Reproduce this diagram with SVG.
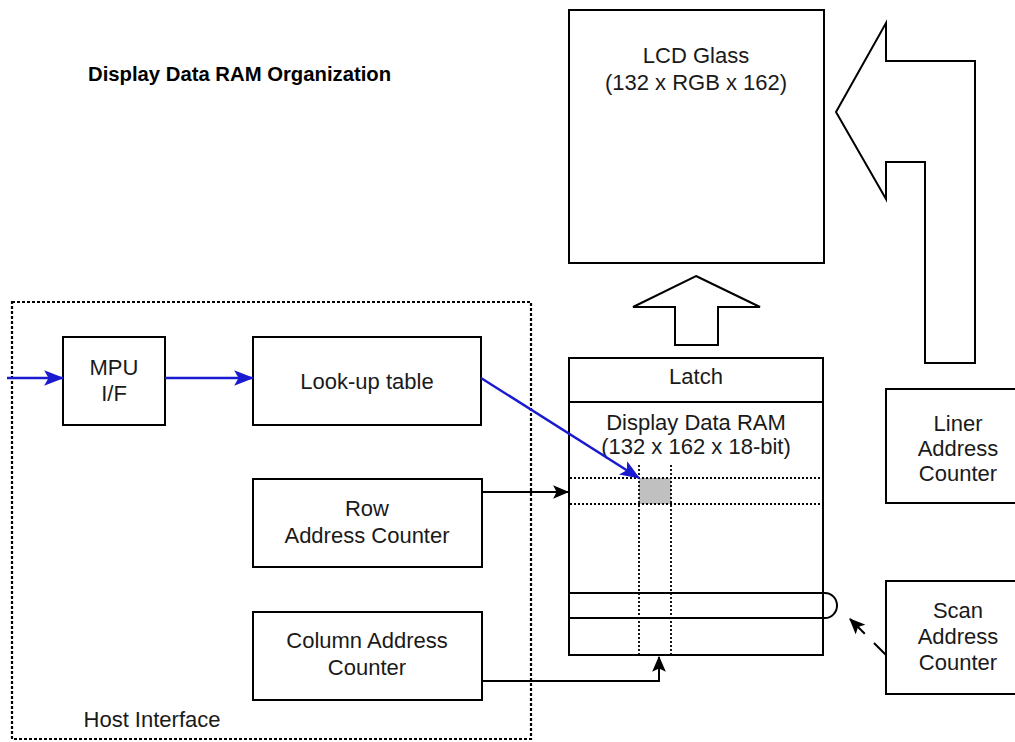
<svg xmlns="http://www.w3.org/2000/svg" width="1015" height="742" viewBox="0 0 1015 742">
  <style>
    .box { fill: #ffffff; stroke: #000000; stroke-width: 2; }
    .shape { fill: #ffffff; stroke: #000000; stroke-width: 2; stroke-linejoin: miter; }
    .lbl { font-family: "Liberation Sans", Arial, sans-serif; font-size: 22px; fill: #1a1a1a; text-anchor: middle; }
    .title { font-family: "Liberation Sans", Arial, sans-serif; font-size: 20.3px; font-weight: bold; fill: #000000; }
    .host { fill: none; stroke: #000000; stroke-width: 2.2; stroke-dasharray: 3 2; }
    .dot { fill: none; stroke: #000000; stroke-width: 1.8; stroke-dasharray: 2 2; }
    .blue { fill: none; stroke: #1a1ad0; stroke-width: 2.5; }
    .blk { fill: none; stroke: #000000; stroke-width: 2; }
  </style>
  <defs>
    <marker id="ahBlue" markerUnits="userSpaceOnUse" markerWidth="20" markerHeight="16" viewBox="0 0 18 14" refX="17" refY="7" orient="auto">
      <path d="M0,0 L18,7 L0,14 L4,7 Z" fill="#1a1ad0"/>
    </marker>
    <marker id="ahBlack" markerUnits="userSpaceOnUse" markerWidth="16" markerHeight="14" viewBox="0 0 14 12" refX="13" refY="6" orient="auto">
      <path d="M0,0 L14,6 L0,12 L3,6 Z" fill="#000000"/>
    </marker>
  </defs>

  <rect width="1015" height="742" fill="#ffffff"/>

  <text class="title" x="88" y="81">Display Data RAM Organization</text>

  <g id="host-interface">
    <rect class="host" x="12" y="302" width="519" height="437"/>
    <text class="lbl" x="152" y="727">Host Interface</text>
  </g>

  <g id="lcd-glass">
    <rect class="box" x="569" y="10" width="255" height="253"/>
    <text class="lbl" x="696" y="63">LCD Glass</text>
    <text class="lbl" x="696" y="90">(132 x RGB x 162)</text>
  </g>

  <g id="bent-arrow">
    <polygon class="shape" points="836,112 886,23 886,61 975,61 975,363 925,363 925,162 886,162 886,199"/>
  </g>

  <g id="up-arrow">
    <polygon class="shape" points="696,276 760,307 718,307 718,345 675,345 675,307 633,307"/>
  </g>

  <g id="latch">
    <rect class="box" x="569" y="358" width="254" height="44"/>
    <text class="lbl" x="696" y="384">Latch</text>
  </g>

  <g id="display-ram">
    <rect class="box" x="569" y="402" width="254" height="253"/>
    <text class="lbl" x="696" y="430">Display Data RAM</text>
    <text class="lbl" x="696" y="454">(132 x 162 x 18-bit)</text>
    <rect x="639" y="478" width="32" height="26" fill="#c0c0c0"/>
    <line class="dot" x1="570" y1="478" x2="822" y2="478"/>
    <line class="dot" x1="570" y1="504" x2="822" y2="504"/>
    <line class="dot" x1="639" y1="465" x2="639" y2="654"/>
    <line class="dot" x1="671" y1="465" x2="671" y2="654"/>
    <path class="blk" fill="#ffffff" d="M569,593 H825 A12,12.5 0 0 1 825,618 H569"/>
  </g>

  <g id="mpu-if">
    <rect class="box" x="63" y="337" width="102" height="88"/>
    <text class="lbl" x="114" y="375">MPU</text>
    <text class="lbl" x="114" y="401">I/F</text>
  </g>

  <g id="lookup-table">
    <rect class="box" x="253" y="337" width="228" height="88"/>
    <text class="lbl" x="367" y="389">Look-up table</text>
  </g>

  <g id="row-counter">
    <rect class="box" x="253" y="479" width="229" height="88"/>
    <text class="lbl" x="367" y="516">Row</text>
    <text class="lbl" x="367" y="543">Address Counter</text>
  </g>

  <g id="column-counter">
    <rect class="box" x="253" y="612" width="229" height="88"/>
    <text class="lbl" x="367" y="648">Column Address</text>
    <text class="lbl" x="367" y="675">Counter</text>
  </g>

  <g id="liner-counter">
    <rect class="box" x="886" y="389" width="140" height="114"/>
    <text class="lbl" x="958" y="431">Liner</text>
    <text class="lbl" x="958" y="456">Address</text>
    <text class="lbl" x="958" y="481">Counter</text>
  </g>

  <g id="scan-counter">
    <rect class="box" x="886" y="581" width="140" height="113"/>
    <text class="lbl" x="958" y="618">Scan</text>
    <text class="lbl" x="958" y="644">Address</text>
    <text class="lbl" x="958" y="670">Counter</text>
  </g>

  <g id="connectors">
    <line class="blue" x1="7" y1="378" x2="63" y2="378" marker-end="url(#ahBlue)"/>
    <line class="blue" x1="165" y1="378" x2="253" y2="378" marker-end="url(#ahBlue)"/>
    <line class="blue" x1="481" y1="378" x2="639" y2="478" marker-end="url(#ahBlue)"/>
    <line class="blk" x1="482" y1="492" x2="568" y2="492" marker-end="url(#ahBlack)"/>
    <path class="blk" d="M482,681 H659 V657" marker-end="url(#ahBlack)"/>
    <path class="blk" d="M886,655 L850,619" stroke-dasharray="17 13 40" marker-end="url(#ahBlack)"/>
  </g>
</svg>
